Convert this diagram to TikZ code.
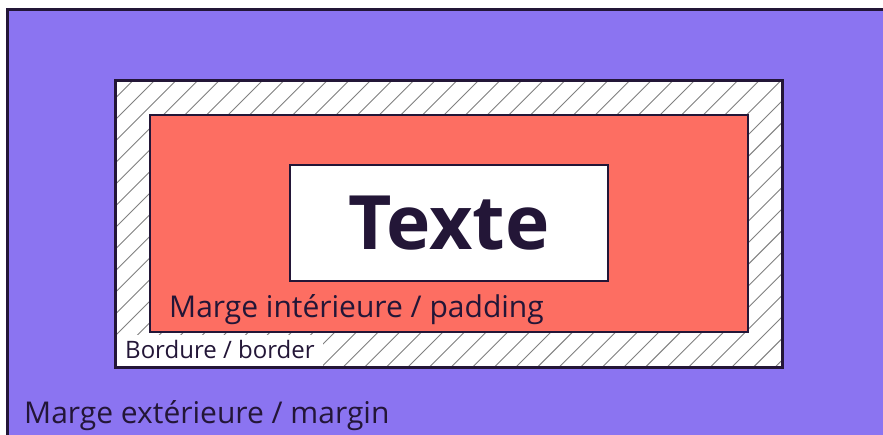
\documentclass[tikz,border=0pt]{standalone}
\usepackage{fontspec}
\setmainfont{Open Sans}
\usepackage{tikz}
\usepackage{xcolor}
\usetikzlibrary{positioning}

\definecolor{marginpurple}{RGB}{139,116,241}
\definecolor{paddingcoral}{RGB}{253,110,98}
\definecolor{ink}{RGB}{35,22,55}
\definecolor{hatchgray}{RGB}{128,128,128}

\tikzset{
  box/.style={draw=ink, anchor=north west, inner sep=0pt, outer sep=0pt},
  boxlabel/.style={anchor=base west, text=ink, inner sep=0pt, font=\fontsize{30}{30}\selectfont},
  hatchline/.style={draw=hatchgray, line width=0.9pt}
}

\begin{document}
\begin{tikzpicture}[x=1pt, y=-1pt]

\useasboundingbox (0,0) rectangle (883,434);
\clip (0,0) rectangle (883,434);

% Margin area (runs off the page on the right and bottom)
\node[box, fill=marginpurple, line width=3pt, minimum width=900pt, minimum height=450pt] (margin) at (7,9) {};

% Border area, hatched
\node[box, fill=white, draw=none, minimum width=667pt, minimum height=287pt] (border) at (115,80) {};
\begin{scope}
  \clip (border.north west) rectangle (border.south east);
  \foreach \k in {0,...,45}{
    \pgfmathsetmacro{\c}{191.8+21.6*\k}
    \draw[hatchline] (\c-367,367) -- (\c-80,80);
  }
\end{scope}

% Border label on a white patch
\node[anchor=base west, fill=white, text=ink, inner xsep=8pt, inner ysep=1.5pt,
      text height=22pt, text depth=6pt, font=\fontsize{24}{24}\selectfont]
  (borderlabel) at (117,358) {Bordure / border};
\draw[ink, line width=3pt] (border.north west) rectangle (border.south east);

% Padding area
\node[box, fill=paddingcoral, line width=2.5pt, minimum width=598pt, minimum height=217pt] (padding) at (150,115) {};
\node[boxlabel] (paddinglabel) at (169,317) {Marge intérieure / padding};

% Content box
\node[box, fill=white, line width=2.5pt, minimum width=318pt, minimum height=116pt] (content) at (290,165) {};
\node[text=ink, inner sep=0pt, font=\bfseries\fontsize{75}{75}\selectfont] (contenttext) at (content.center) {Texte};

% Margin label
\node[boxlabel] (marginlabel) at (24,423) {Marge extérieure / margin};

\end{tikzpicture}
\end{document}
